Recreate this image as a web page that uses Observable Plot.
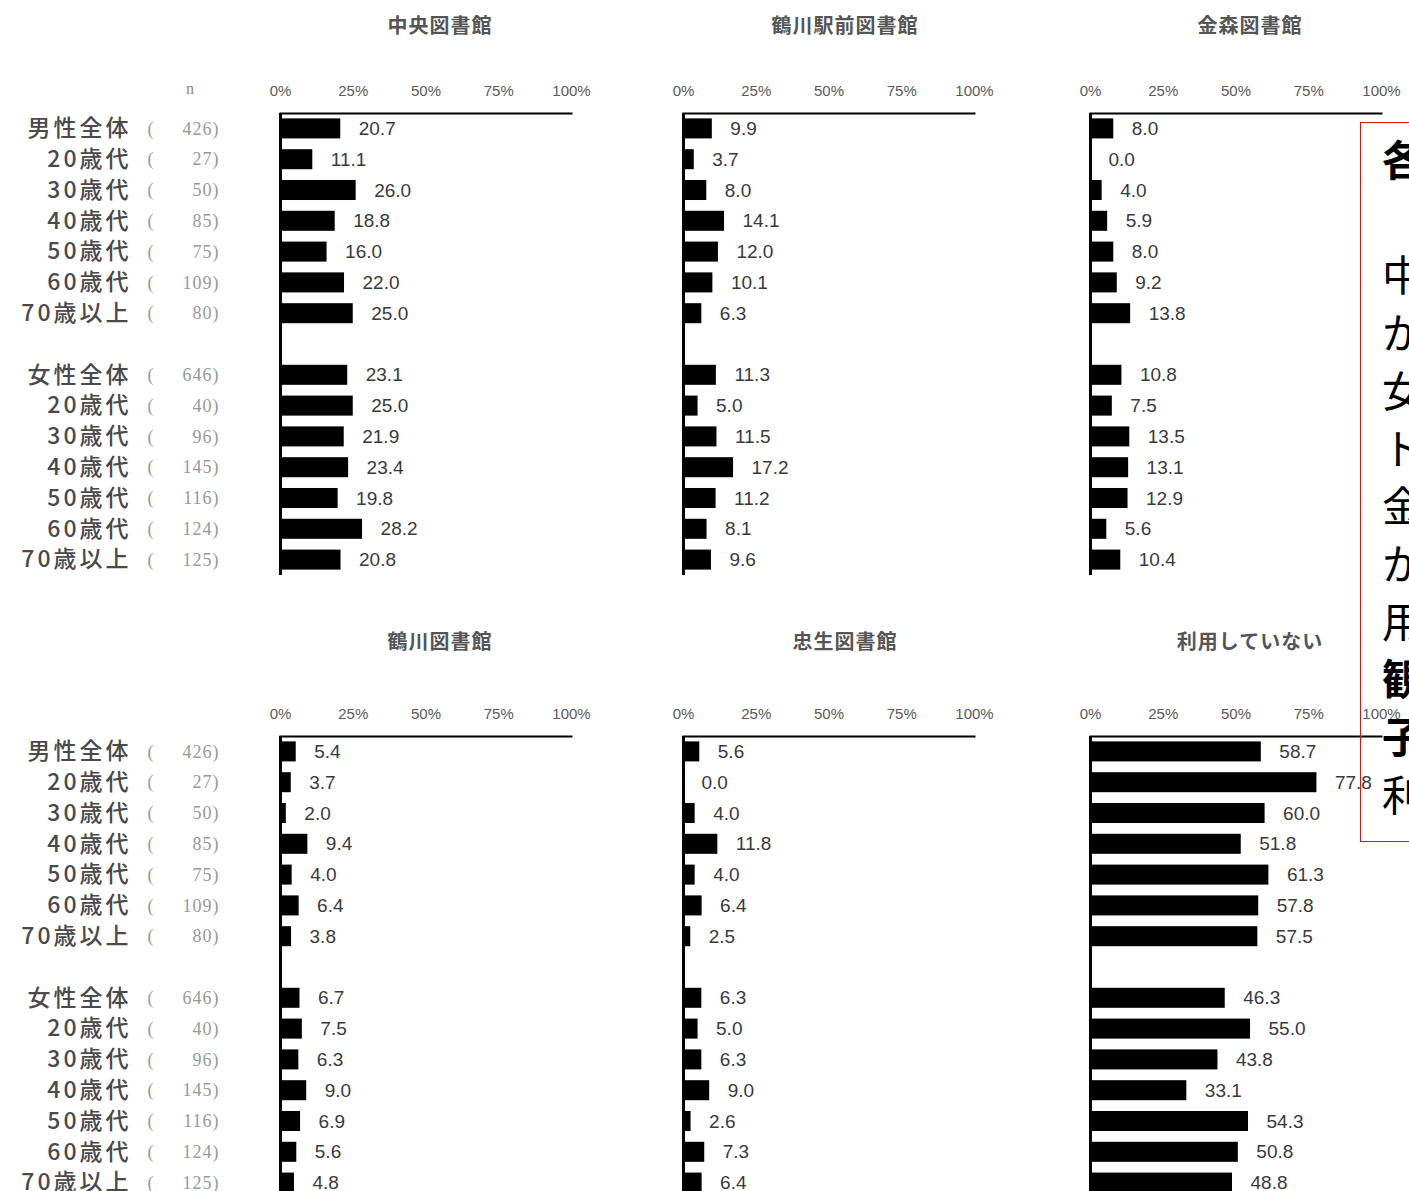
<!DOCTYPE html>
<html><head><meta charset="utf-8">
<script src="https://cdn.jsdelivr.net/npm/d3@7"></script>
<script src="https://cdn.jsdelivr.net/npm/@observablehq/plot@0.6"></script>
<style>
html,body{margin:0;padding:0;background:#fff}
body{width:1409px;height:1191px;overflow:hidden;position:relative;font-family:"Noto Sans CJK JP",sans-serif}
.pos{position:absolute}
.title{position:absolute;transform:translate(-50%,-50%);font-size:20px;font-weight:bold;color:#555;white-space:nowrap;letter-spacing:1px}
#note{position:absolute;left:1360px;top:122px;width:130px;height:720px;border:1.5px solid #e01010;box-sizing:border-box;padding:6px 0 0 21px;font-size:42px;line-height:57.7px;color:#000;pointer-events:none;white-space:nowrap}
#note .b{font-weight:bold}
</style></head><body>
<div id="root"></div>
<script>
// ---- data ----
const maleLabels = ["男性全体","20歳代","30歳代","40歳代","50歳代","60歳代","70歳以上"];
const femaleLabels = ["女性全体","20歳代","30歳代","40歳代","50歳代","60歳代","70歳以上"];
const maleN = [426, 27, 50, 85, 75, 109, 80];
const femaleN = [646, 40, 96, 145, 116, 124, 125];
const tickValues = [0, 25, 50, 75, 100];
const libraries = ["中央図書館","鶴川駅前図書館","金森図書館","鶴川図書館","忠生図書館","利用していない"];

const centralMale = [20.7, 11.1, 26.0, 18.8, 16.0, 22.0, 25.0];
const centralFemale = [23.1, 25.0, 21.9, 23.4, 19.8, 28.2, 20.8];
const tsurukawaStationMale = [9.9, 3.7, 8.0, 14.1, 12.0, 10.1, 6.3];
const tsurukawaStationFemale = [11.3, 5.0, 11.5, 17.2, 11.2, 8.1, 9.6];
const kanamoriMale = [8.0, 0.0, 4.0, 5.9, 8.0, 9.2, 13.8];
const kanamoriFemale = [10.8, 7.5, 13.5, 13.1, 12.9, 5.6, 10.4];
const tsurukawaMale = [5.4, 3.7, 2.0, 9.4, 4.0, 6.4, 3.8];
const tsurukawaFemale = [6.7, 7.5, 6.3, 9.0, 6.9, 5.6, 4.8];
const tadaoMale = [5.6, 0.0, 4.0, 11.8, 4.0, 6.4, 2.5];
const tadaoFemale = [6.3, 5.0, 6.3, 9.0, 2.6, 7.3, 6.4];
const notUsingMale = [58.7, 77.8, 60.0, 51.8, 61.3, 57.8, 57.5];
const notUsingFemale = [46.3, 55.0, 43.8, 33.1, 54.3, 50.8, 48.8];

const noteLines = ["各", "", "中", "か", "女", "ト", "金", "か", "用", "観", "子", "利"];
const noteBold = [true, false, false, false, false, false, false, false, false, true, true, false];

// ---- layout ----
const keys = [...maleLabels.map((_, i) => "M" + i), "gap", ...femaleLabels.map((_, i) => "F" + i)];
const step = 30.8;
const frameH = keys.length * step;
const frameW = 291;
const rowTops = [113, 736];
const colLefts = [280, 683, 1090];
const titleX = [440, 845, 1250];
const titleY = [24, 640];
const mTop = 40, mLeft = 4, mRight = 70;

const valueSets = [
  [centralMale, centralFemale], [tsurukawaStationMale, tsurukawaStationFemale], [kanamoriMale, kanamoriFemale],
  [tsurukawaMale, tsurukawaFemale], [tadaoMale, tadaoFemale], [notUsingMale, notUsingFemale]
];

const labelRows = [
  ...maleLabels.map((l, i) => ({key: "M" + i, label: l, n: maleN[i]})),
  ...femaleLabels.map((l, i) => ({key: "F" + i, label: l, n: femaleN[i]}))
];

const root = document.getElementById("root");
const yScale = {domain: keys, axis: null, paddingInner: 0.35, paddingOuter: 0.175, round: false};

function place(el, left, top) {
  el.classList.add("pos");
  el.style.left = left + "px";
  el.style.top = top + "px";
  root.appendChild(el);
}

for (let r = 0; r < 2; r++) {
  // left labels
  const lab = Plot.plot({
    width: 280, height: mTop + frameH, marginTop: mTop, marginLeft: 0, marginRight: 0, marginBottom: 0,
    y: yScale,
    marks: [
      Plot.text(labelRows, {y: "key", text: "label", frameAnchor: "left", dx: 131, textAnchor: "end",
        fontSize: 23, fill: "#4a4a4a", fontFamily: "Noto Sans CJK JP", fontWeight: 500}),
      Plot.text(labelRows, {y: "key", text: () => "(", frameAnchor: "left", dx: 150, textAnchor: "middle",
        fontSize: 18, fill: "#999", fontFamily: "Liberation Serif"}),
      Plot.text(labelRows, {y: "key", text: d => d.n + ")", frameAnchor: "left", dx: 219, textAnchor: "end",
        fontSize: 18, fill: "#999", fontFamily: "Liberation Serif"})
    ]
  });
  const groups = lab.querySelectorAll('g[aria-label="text"]');
  if (groups.length) groups[0].style.letterSpacing = "3px";
  if (groups.length > 2) groups[2].style.letterSpacing = "1px";
  place(lab, 0, rowTops[r] - mTop);

  for (let c = 0; c < 3; c++) {
    const idx = r * 3 + c;
    const [mv, fv] = valueSets[idx];
    const rows = [
      ...mv.map((v, i) => ({key: "M" + i, value: v})),
      ...fv.map((v, i) => ({key: "F" + i, value: v}))
    ];
    const p = Plot.plot({
      width: mLeft + frameW + mRight, height: mTop + frameH,
      marginTop: mTop, marginLeft: mLeft, marginRight: mRight, marginBottom: 0,
      x: {domain: [0, 100], axis: null},
      y: yScale,
      style: {overflow: "visible"},
      marks: [
        Plot.axisX(tickValues, {anchor: "top", label: null, tickSize: 0, tickPadding: 18, tickFormat: d => d + "%",
          fontSize: 15, fill: "#5a5a5a", fontFamily: "Liberation Sans"}),
        Plot.frame({anchor: "top", stroke: "#000", strokeWidth: 2}),
        Plot.barX(rows, {x: "value", y: "key", fill: "#000"}),
        Plot.ruleX([0], {stroke: "#000", strokeWidth: 3}),
        Plot.text(rows, {x: "value", y: "key", text: d => d.value.toFixed(1), dx: 18, textAnchor: "start",
          fontSize: 19, fill: "#3a3a3a", fontFamily: "Liberation Sans"})
      ]
    });
    place(p, colLefts[c] - mLeft, rowTops[r] - mTop);

    const t = document.createElement("div");
    t.className = "title";
    t.textContent = libraries[idx];
    t.style.left = titleX[c] + "px";
    t.style.top = titleY[r] + "px";
    root.appendChild(t);
  }
}

// "n" header
const nh = document.createElement("div");
nh.textContent = "n";
nh.style.cssText = "position:absolute;left:186px;top:80px;font-size:16px;color:#888;font-family:'Liberation Serif'";
root.appendChild(nh);

// note box
const note = document.createElement("div");
note.id = "note";
noteLines.forEach((l, i) => {
  const d = document.createElement("div");
  d.textContent = l || "\u00a0";
  if (noteBold[i]) d.className = "b";
  note.appendChild(d);
});
root.appendChild(note);
</script>
</body></html>
